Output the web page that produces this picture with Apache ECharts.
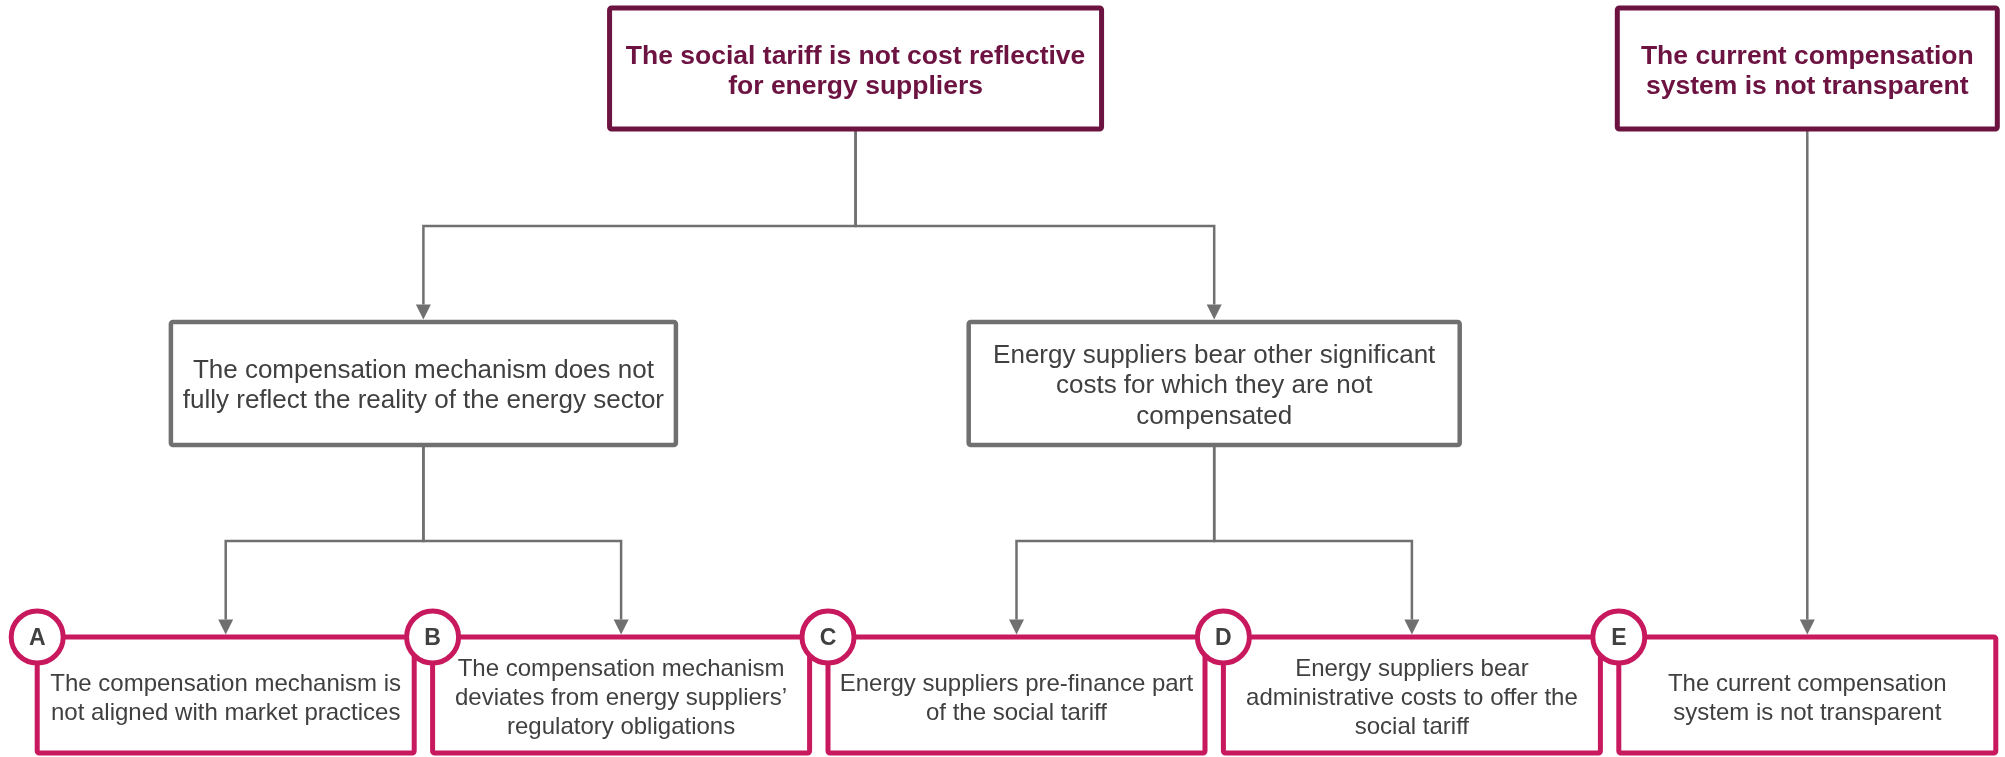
<!DOCTYPE html>
<html>
<head>
<meta charset="utf-8">
<script src="https://cdn.jsdelivr.net/npm/echarts@6/dist/echarts.min.js"></script>
<style>
html, body { margin: 0; padding: 0; background: #fff; }
#container { width: 2005px; height: 757px; }
</style>
</head>
<body>
<div id="container"></div>
<script>
// problem tree content
var rootLabels = [
    'The social tariff is not cost reflective\nfor energy suppliers',
    'The current compensation\nsystem is not transparent'
];
var midLabels = [
    'The compensation mechanism does not\nfully reflect the reality of the energy sector',
    'Energy suppliers bear other significant\ncosts for which they are not\ncompensated'
];
var midParents = [0, 0];
var leafLetters = ['A', 'B', 'C', 'D', 'E'];
var leafLabels = [
    'The compensation mechanism is\nnot aligned with market practices',
    'The compensation mechanism\ndeviates from energy suppliers\u2019\nregulatory obligations',
    'Energy suppliers pre-finance part\nof the social tariff',
    'Energy suppliers bear\nadministrative costs to offer the\nsocial tariff',
    'The current compensation\nsystem is not transparent'
];
// parent of each leaf: 'm' = middle row, 'r' = top row
var leafParents = [['m', 0], ['m', 0], ['m', 1], ['m', 1], ['r', 1]];

// layout (column units on x, pixel rows on y)
var FONT = '"Liberation Sans", Arial, sans-serif';
var layout = {
    rootX: [2.093, 4.5],
    y: { r: 68.5, m: 383.5, l: 695 },
    elbow: { r: 226, m: 541 },
    w: { r: [492, 380], m: [505, 491], l: 377 },
    h: { r: 121, m: 123, l: 116 }
};
var styles = {
    r: { border: '#6d1342', bw: 5, color: '#6d1342', size: 26.5, weight: 'bold', lh: 30, dy: 3.5 },
    m: { border: '#707070', bw: 4.5, color: '#404040', size: 26, weight: 'normal', lh: 30.5, dy: 2.5 },
    l: { border: '#c8195e', bw: 5, color: '#404040', size: 24, weight: 'normal', lh: 29, dy: 3.5 }
};

// build nodes
var nodes = [];
var leafNodes = leafLabels.map(function (t, i) {
    return { kind: 'l', x: i + 0.5, y: layout.y.l, w: layout.w.l, h: layout.h.l, label: t, letter: leafLetters[i] };
});
var midNodes = midLabels.map(function (t, i) {
    var kids = leafNodes.filter(function (n, j) { return leafParents[j][0] === 'm' && leafParents[j][1] === i; });
    var x = kids.reduce(function (s, k) { return s + k.x; }, 0) / kids.length;
    return { kind: 'm', x: x, y: layout.y.m, w: layout.w.m[i], h: layout.h.m, label: t };
});
var rootNodes = rootLabels.map(function (t, i) {
    return { kind: 'r', x: layout.rootX[i], y: layout.y.r, w: layout.w.r[i], h: layout.h.r, label: t };
});
nodes = rootNodes.concat(midNodes, leafNodes);

var edges = [];
midParents.forEach(function (p, i) { edges.push({ from: rootNodes[p], to: midNodes[i], elbow: layout.elbow.r }); });
leafParents.forEach(function (p, i) {
    var par = p[0] === 'm' ? midNodes[p[1]] : rootNodes[p[1]];
    edges.push({ from: par, to: leafNodes[i], elbow: p[0] === 'm' ? layout.elbow.m : layout.elbow.r });
});

function renderNode(params, api) {
    var n = nodes[params.dataIndex];
    var st = styles[n.kind];
    var c = api.coord([api.value(0), api.value(1)]);
    var x0 = c[0] - n.w / 2, y0 = c[1] - n.h / 2;
    var els = [
        { type: 'rect', shape: { x: x0, y: y0, width: n.w, height: n.h, r: 2 },
          style: { fill: '#fff', stroke: st.border, lineWidth: st.bw } },
        { type: 'text', style: { text: n.label, x: c[0], y: c[1] + st.dy, align: 'center', verticalAlign: 'middle',
          fontSize: st.size, fontWeight: st.weight, fontFamily: FONT, lineHeight: st.lh, fill: st.color } }
    ];
    if (n.letter) {
        els.push({ type: 'circle', z2: 10, shape: { cx: x0, cy: y0, r: 26 },
            style: { fill: '#fff', stroke: st.border, lineWidth: 5 } });
        els.push({ type: 'text', z2: 11, style: { text: n.letter, x: x0, y: y0 + 1.5, align: 'center', verticalAlign: 'middle',
            fontSize: 23, fontWeight: 'bold', fontFamily: FONT, fill: '#404040' } });
    }
    return { type: 'group', children: els };
}

function renderEdge(params, api) {
    var e = edges[params.dataIndex];
    var a = api.coord([e.from.x, e.from.y + e.from.h / 2]);
    var b = api.coord([e.to.x, e.to.y - e.to.h / 2]);
    var ey = api.coord([0, e.elbow])[1];
    var tip = b[1] - 2.5, base = tip - 15;
    return {
        type: 'group',
        children: [
            { type: 'polyline', shape: { points: [[a[0], a[1]], [a[0], ey], [b[0], ey], [b[0], base]] },
              style: { stroke: '#707070', lineWidth: 2.5, fill: null } },
            { type: 'polygon', shape: { points: [[b[0] - 7.5, base], [b[0] + 7.5, base], [b[0], tip]] },
              style: { fill: '#707070' } }
        ]
    };
}

var chart = echarts.init(document.getElementById('container'));
chart.setOption({
    animation: false,
    grid: { left: 28, right: 0, top: 0, bottom: 0 },
    xAxis: { type: 'value', min: 0, max: 5, show: false },
    yAxis: { type: 'value', min: 0, max: 757, inverse: true, show: false },
    series: [
        {
            name: 'links',
            type: 'custom',
            clip: false,
            z: 1,
            renderItem: renderEdge,
            data: edges.map(function (e) { return [e.to.x, e.to.y]; })
        },
        {
            name: 'boxes',
            type: 'custom',
            clip: false,
            z: 2,
            renderItem: renderNode,
            data: nodes.map(function (n) { return [n.x, n.y]; })
        }
    ]
});
</script>
</body>
</html>
